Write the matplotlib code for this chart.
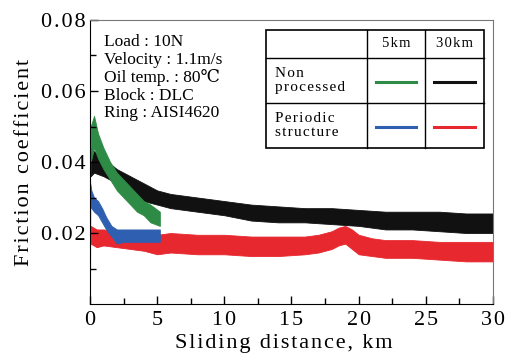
import matplotlib
matplotlib.use("Agg")
import matplotlib.pyplot as plt
from matplotlib.patches import Rectangle

plt.rcParams['font.family'] = ['Liberation Serif', 'DejaVu Serif']

# Non processed, 5 km run (green): envelope of the noisy trace
green_km = [0.05, 0.3, 0.6, 1.0, 1.5, 2.0, 2.5, 3.0, 3.5, 4.0, 4.5, 5.2]
green_hi = [0.050, 0.053, 0.048, 0.044, 0.040, 0.037, 0.035, 0.033, 0.031, 0.029, 0.028, 0.026]
green_lo = [0.040, 0.044, 0.041, 0.038, 0.035, 0.032, 0.030, 0.028, 0.026, 0.025, 0.023, 0.022]

# Non processed, 30 km run (black)
black_km = [0.05, 0.3, 1, 2, 3, 4, 5, 6, 8, 10, 12, 14, 16, 18, 20, 22, 24, 26, 28, 30]
black_hi = [0.044, 0.043, 0.041, 0.038, 0.036, 0.034, 0.032, 0.031, 0.030, 0.029,
            0.028, 0.0275, 0.027, 0.027, 0.0265, 0.026, 0.026, 0.026, 0.0255, 0.0255]
black_lo = [0.036, 0.037, 0.036, 0.034, 0.031, 0.029, 0.028, 0.027, 0.026, 0.025,
            0.0235, 0.023, 0.023, 0.0225, 0.022, 0.021, 0.021, 0.0205, 0.020, 0.020]

# Periodic structure, 5 km run (blue)
blue_km = [0.0, 0.02, 0.1, 0.3, 0.6, 0.9, 1.2, 1.6, 2.0, 2.5, 3.0, 4.0, 5.2]
blue_hi = [0.030, 0.034, 0.032, 0.030, 0.029, 0.027, 0.0245, 0.022, 0.021, 0.021, 0.021, 0.021, 0.021]
blue_lo = [0.0, 0.028, 0.027, 0.026, 0.025, 0.023, 0.021, 0.019, 0.017, 0.0175, 0.0175, 0.0175, 0.0175]

# Periodic structure, 30 km run (red)
red_km = [0.05, 0.5, 1, 2, 3, 4, 5, 6, 8, 10, 12, 14, 16, 17, 18, 18.5, 19, 19.5,
          20, 21, 22, 24, 26, 28, 30]
red_hi = [0.022, 0.021, 0.021, 0.0205, 0.020, 0.020, 0.0195, 0.020, 0.0195, 0.0195,
          0.019, 0.019, 0.019, 0.0195, 0.0205, 0.0215, 0.022, 0.021, 0.0195, 0.0185,
          0.018, 0.018, 0.0175, 0.0175, 0.0175]
red_lo = [0.017, 0.016, 0.0165, 0.016, 0.0155, 0.015, 0.014, 0.0145, 0.014, 0.014,
          0.0135, 0.0135, 0.014, 0.0145, 0.0155, 0.0165, 0.017, 0.0155, 0.014, 0.0135,
          0.013, 0.013, 0.0125, 0.012, 0.012]

conditions = ["Load : 10N", "Velocity : 1.1m/s", "Oil temp. : 80\u2103",
              "Block : DLC", "Ring : AISI4620"]
col_labels = ["5km", "30km"]
row_labels = ["Non\nprocessed", "Periodic\nstructure"]
x_ticks = [0, 5, 10, 15, 20, 25, 30]
y_ticks = [0.02, 0.04, 0.06, 0.08]

GREEN = '#2e8b45'
BLACK = '#111111'
BLUE = '#2f5fb0'
RED = '#e8282f'


def spaced(s):
    # the original typesetting is letter-spaced; fake it with hair spaces
    return "\n".join("\u200a".join(line) for line in s.split("\n"))


fig = plt.figure(figsize=(5.06, 3.6), dpi=100)
ax = fig.add_axes([90 / 506, 56 / 360, 403 / 506, 284 / 360])

# draw order: black under green, red under blue
for km, hi, lo, c in [(black_km, black_hi, black_lo, BLACK),
                      (red_km, red_hi, red_lo, RED),
                      (green_km, green_hi, green_lo, GREEN),
                      (blue_km, blue_hi, blue_lo, BLUE)]:
    ax.fill_between(km, lo, hi, color=c, lw=0.6, edgecolor=c)

ax.set_xlim(0, 30)
ax.set_ylim(0, 0.08)
ax.set_xticks(x_ticks)
ax.set_xticklabels([spaced(str(v)) for v in x_ticks])
ax.set_xticks([2.5 + 5 * i for i in range(6)], minor=True)
ax.set_yticks(y_ticks)
ax.set_yticklabels([spaced(f"{v:.2f}") for v in y_ticks])
ax.set_yticks([0.01, 0.03, 0.05, 0.07], minor=True)
ax.tick_params(direction='in', which='both', labelsize=16, width=1)
ax.tick_params(which='major', length=6)
ax.tick_params(which='minor', length=4)
ax.tick_params(axis='x', pad=5)
for s in ['top', 'right']:
    ax.spines[s].set_color('#777777')
ax.set_xlabel(spaced('Sliding distance, km'), fontsize=16, labelpad=2)
ax.xaxis.set_label_coords(0.482, -0.105)
ax.set_ylabel(spaced('Friction coefficient'), fontsize=16, labelpad=5)

# test conditions
ax.text(0.035, 0.95, "\n".join(conditions), transform=ax.transAxes,
        fontsize=12.5, va='top', ha='left', linespacing=1.12)

# legend table (axes fraction coordinates)
x0, x1, x2, x3 = 0.437, 0.687, 0.831, 0.978
y0, y1, y2, y3 = 0.965, 0.866, 0.708, 0.549
ax.add_patch(Rectangle((x0, y3), x3 - x0, y0 - y3, transform=ax.transAxes,
                       facecolor='white', edgecolor='black', lw=1.2, zorder=5))
for x in (x1, x2):
    ax.plot([x, x], [y3, y0], transform=ax.transAxes, color='black', lw=1, zorder=6)
for y in (y1, y2):
    ax.plot([x0, x3], [y, y], transform=ax.transAxes, color='black', lw=1, zorder=6)
for lab, xa, xb in zip(col_labels, (x1, x2), (x2, x3)):
    ax.text((xa + xb) / 2, (y0 + y1) / 2, spaced(lab), transform=ax.transAxes,
            ha='center', va='center', fontsize=10.5, zorder=7)
for lab, ya, yb in zip(row_labels, (y1, y2), (y2, y3)):
    ax.text(x0 + 0.022, (ya + yb) / 2, spaced(lab), transform=ax.transAxes,
            ha='left', va='center', fontsize=11, linespacing=1.15, zorder=7)
swatches = [[GREEN, BLACK], [BLUE, RED]]
for (ya, yb), row in zip(((y1, y2), (y2, y3)), swatches):
    ym = (ya + yb) / 2 - 0.005
    for (xa, xb), c in zip(((x1, x2), (x2, x3)), row):
        ax.plot([xa + 0.022, xb - 0.022], [ym, ym], transform=ax.transAxes,
                color=c, lw=2.2, zorder=7)

fig.savefig('out.png', dpi=100)
